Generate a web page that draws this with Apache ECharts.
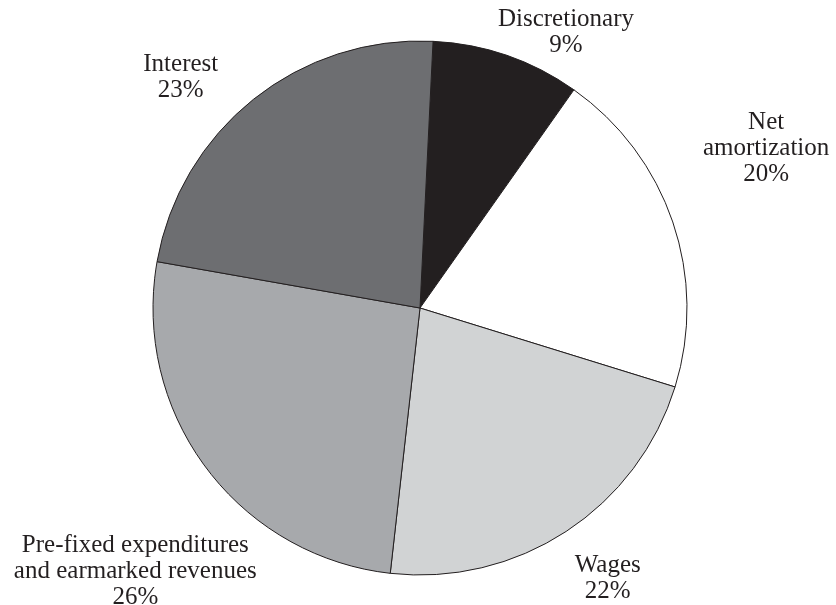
<!DOCTYPE html>
<html>
<head>
<meta charset="utf-8">
<script src="https://cdn.jsdelivr.net/npm/echarts@6/dist/echarts.min.js"></script>
<style>
html,body{margin:0;padding:0;background:#fff;}
#c{width:836px;height:605px;}
</style>
</head>
<body>
<div id="c"></div>
<script>
// Data
const categories = ['Discretionary', 'Net\namortization', 'Wages', 'Pre-fixed expenditures\nand earmarked revenues', 'Interest'];
const values = [9, 20, 22, 26, 23];
const colors = ['#231f20', '#ffffff', '#d1d3d4', '#a7a9ac', '#6d6e71'];

// label placement (angle clockwise from top in degrees, distance from centre in px)
const labelPolar = [[27.9, 312], [65.3, 381], [145.2, 329], [227.2, 388], [313.9, 332]];

const cx = 420, cy = 308, R = 267;
const FONT = 'Times New Roman, Times, Liberation Serif, DejaVu Serif, serif';

const chart = echarts.init(document.getElementById('c'), null, {renderer: 'canvas'});
chart.setOption({
  animation: false,
  backgroundColor: '#fff',
  textStyle: {fontFamily: FONT},
  series: [{
    type: 'pie',
    center: [cx, cy],
    radius: [0, R],
    startAngle: 87.2,
    clockwise: true,
    avoidLabelOverlap: false,
    emphasis: {disabled: true},
    itemStyle: {borderColor: '#231f20', borderWidth: 1},
    label: {
      show: true,
      position: 'outside',
      formatter: p => p.name + '\n' + p.value + '%',
      fontFamily: FONT,
      fontSize: 25,
      lineHeight: 26,
      color: '#231f20',
      align: 'center'
    },
    labelLine: {show: false},
    labelLayout: function (p) {
      const lp = labelPolar[p.dataIndex];
      const a = lp[0] * Math.PI / 180;
      return {
        x: cx + lp[1] * Math.sin(a),
        y: cy - lp[1] * Math.cos(a),
        align: 'center',
        verticalAlign: 'middle'
      };
    },
    data: categories.map((n, i) => ({name: n, value: values[i], itemStyle: {color: colors[i]}}))
  }]
});
</script>
</body>
</html>
